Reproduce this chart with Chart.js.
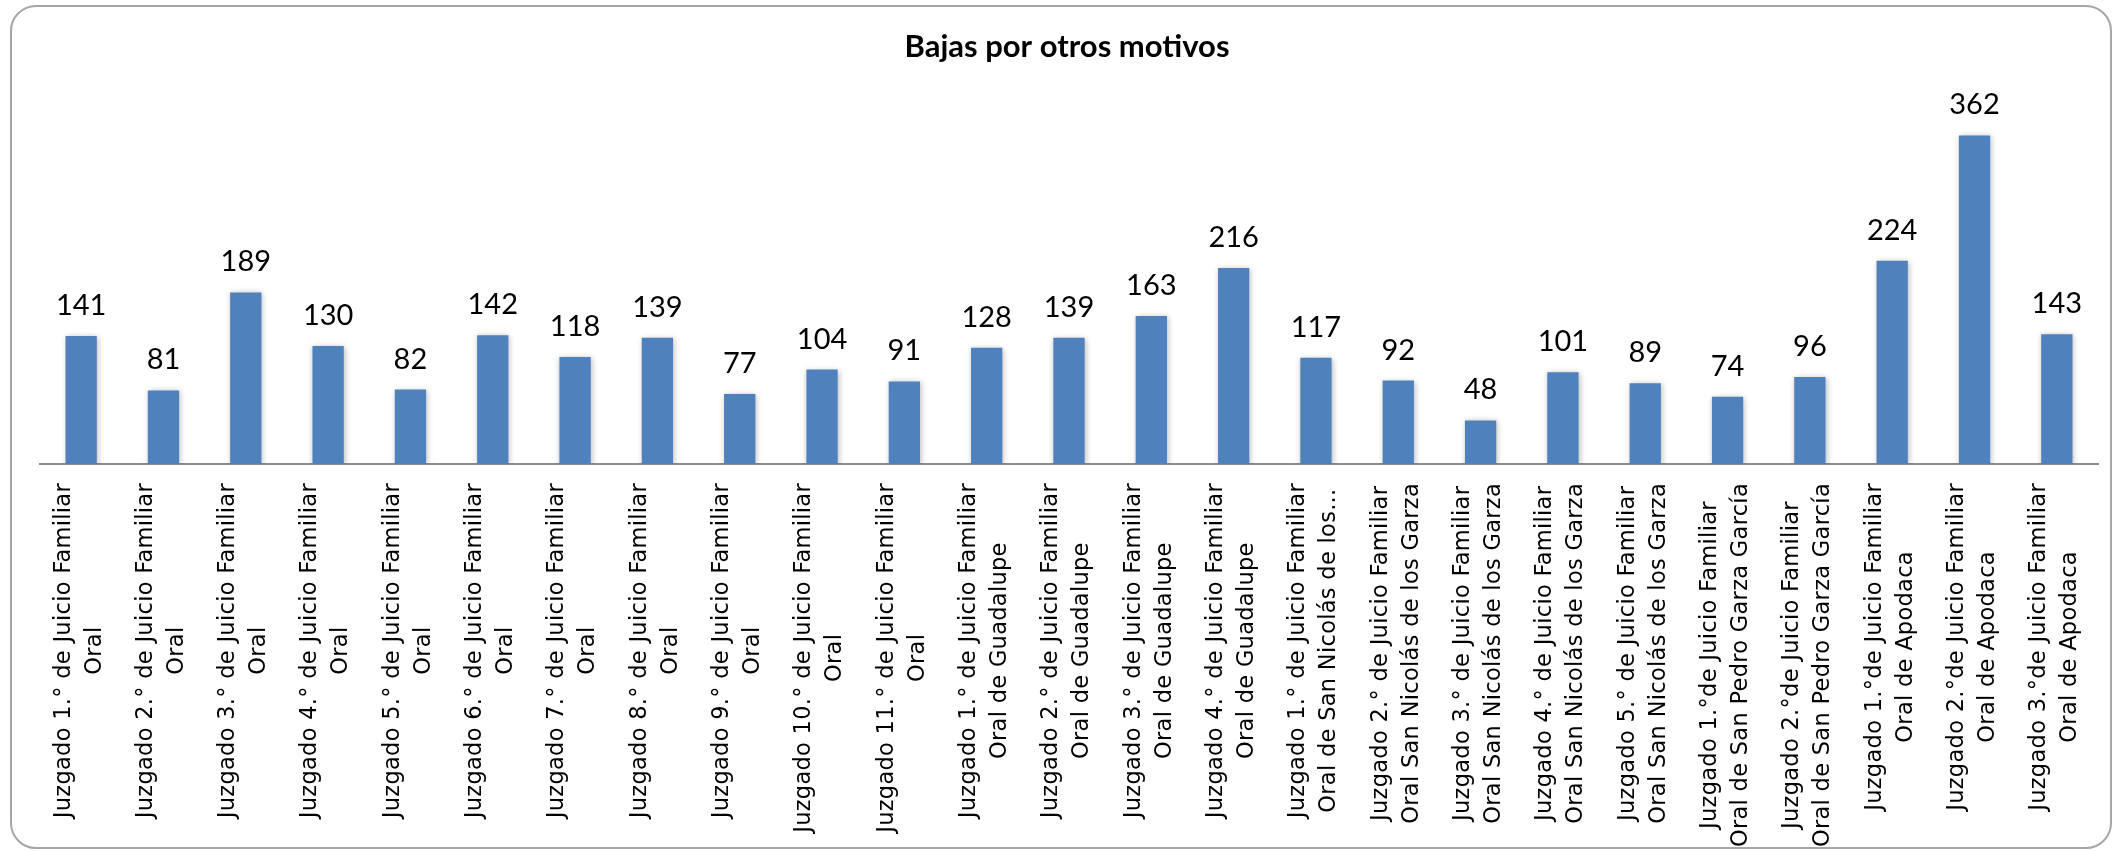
<!DOCTYPE html>
<html>
<head>
<meta charset="utf-8">
<title>Bajas por otros motivos</title>
<script src="https://cdn.jsdelivr.net/npm/chart.js@4.4.1/dist/chart.umd.min.js"></script>
<style>
  html, body { margin: 0; padding: 0; background: #fff; }
  #wrap { position: relative; width: 2118px; height: 851px; }
</style>
</head>
<body>
<div id="wrap"><canvas id="bajas-chart" width="2118" height="851"></canvas></div>
<script>
// =============================================
// Bajas por otros motivos – bar chart
// =============================================

const chartTitle = 'Bajas por otros motivos';

// each category is split in the two lines shown under the axis
const categories = [
  ['Juzgado 1.° de Juicio Familiar', 'Oral'],
  ['Juzgado 2.° de Juicio Familiar', 'Oral'],
  ['Juzgado 3.° de Juicio Familiar', 'Oral'],
  ['Juzgado 4.° de Juicio Familiar', 'Oral'],
  ['Juzgado 5.° de Juicio Familiar', 'Oral'],
  ['Juzgado 6.° de Juicio Familiar', 'Oral'],
  ['Juzgado 7.° de Juicio Familiar', 'Oral'],
  ['Juzgado 8.° de Juicio Familiar', 'Oral'],
  ['Juzgado 9.° de Juicio Familiar', 'Oral'],
  ['Juzgado 10.° de Juicio Familiar', 'Oral'],
  ['Juzgado 11.° de Juicio Familiar', 'Oral'],
  ['Juzgado 1.° de Juicio Familiar', 'Oral de Guadalupe'],
  ['Juzgado 2.° de Juicio Familiar', 'Oral de Guadalupe'],
  ['Juzgado 3.° de Juicio Familiar', 'Oral de Guadalupe'],
  ['Juzgado 4.° de Juicio Familiar', 'Oral de Guadalupe'],
  ['Juzgado 1.° de Juicio Familiar', 'Oral de San Nicolás de los...'],
  ['Juzgado 2.° de Juicio Familiar', 'Oral San Nicolás de los Garza'],
  ['Juzgado 3.° de Juicio Familiar', 'Oral San Nicolás de los Garza'],
  ['Juzgado 4.° de Juicio Familiar', 'Oral San Nicolás de los Garza'],
  ['Juzgado 5.° de Juicio Familiar', 'Oral San Nicolás de los Garza'],
  ['Juzgado 1.°de Juicio Familiar', 'Oral de San Pedro Garza García'],
  ['Juzgado 2.°de Juicio Familiar', 'Oral de San Pedro Garza García'],
  ['Juzgado 1.°de Juicio Familiar', 'Oral de Apodaca'],
  ['Juzgado 2.°de Juicio Familiar', 'Oral de Apodaca'],
  ['Juzgado 3.°de Juicio Familiar', 'Oral de Apodaca']
];

const bajas = [141, 81, 189, 130, 82, 142, 118, 139, 77, 104, 91,
               128, 139, 163, 216,
               117, 92, 48, 101, 89,
               74, 96,
               224, 362, 143];

const yMin = 0;
const yMax = 400;

const BAR_BLUE = '#4F81BD';
const FRAME_GREY = '#a6a6a6';
const AXIS_GREY = '#8c8c8c';

// outer rounded frame, like the spreadsheet chart box
const framePlugin = {
  id: 'frame',
  beforeDraw(chart) {
    const ctx = chart.ctx;
    ctx.save();
    ctx.fillStyle = '#fff';
    ctx.fillRect(0, 0, chart.width, chart.height);
    ctx.beginPath();
    ctx.roundRect(11, 6, 2100, 842, 25);
    ctx.lineWidth = 2;
    ctx.strokeStyle = FRAME_GREY;
    ctx.stroke();
    ctx.restore();
  }
};

// soft shadow behind the bars
const shadowPlugin = {
  id: 'barShadow',
  beforeDatasetsDraw(chart) {
    const ctx = chart.ctx;
    ctx.save();
    ctx.shadowColor = 'rgba(0,0,0,0.28)';
    ctx.shadowBlur = 6;
    ctx.shadowOffsetX = 1;
    ctx.shadowOffsetY = 1;
  },
  afterDatasetsDraw(chart) {
    chart.ctx.restore();
  }
};

const valueLabelPlugin = {
  id: 'valueLabels',
  afterDatasetsDraw(chart) {
    const ctx = chart.ctx;
    const meta = chart.getDatasetMeta(0);
    ctx.save();
    ctx.font = '29px Lato, "Liberation Sans", sans-serif';
    ctx.fillStyle = '#000';
    ctx.textAlign = 'center';
    ctx.textBaseline = 'alphabetic';
    meta.data.forEach((bar, i) => {
      ctx.fillText(String(bajas[i]), bar.x, bar.y - 21);
    });
    ctx.restore();
  }
};

// rotated two-line category labels, lines centred on each other
const categoryLabelPlugin = {
  id: 'categoryLabels',
  afterDraw(chart) {
    const ctx = chart.ctx;
    const xScale = chart.scales.x;
    const top = chart.chartArea.bottom + 19;
    const lineGap = 31;
    ctx.save();
    ctx.font = '22.5px "DejaVu Sans", sans-serif';
    ctx.letterSpacing = '0.3px';
    ctx.fillStyle = '#000';
    ctx.textAlign = 'center';
    ctx.textBaseline = 'middle';
    categories.forEach((lines, i) => {
      const x = xScale.getPixelForValue(i);
      const maxW = Math.max(...lines.map(l => ctx.measureText(l).width));
      ctx.save();
      ctx.translate(x - 2, top + maxW / 2);
      ctx.rotate(-Math.PI / 2);
      lines.forEach((line, k) => {
        ctx.fillText(line, 0, (k - (lines.length - 1) / 2) * lineGap);
      });
      ctx.restore();
    });
    ctx.letterSpacing = '0px';
    ctx.restore();
  }
};

const titlePlugin = {
  id: 'chartTitle',
  afterDraw(chart) {
    const ctx = chart.ctx;
    ctx.save();
    ctx.font = 'bold 31px Lato, "Liberation Sans", sans-serif';
    ctx.fillStyle = '#000';
    ctx.textAlign = 'center';
    ctx.textBaseline = 'alphabetic';
    ctx.fillText(chartTitle, 1067, 57);
    ctx.restore();
  }
};

const ctx = document.getElementById('bajas-chart');

new Chart(ctx, {
  type: 'bar',
  data: {
    labels: categories,
    datasets: [{
      label: chartTitle,
      data: bajas,
      backgroundColor: BAR_BLUE,
      borderWidth: 0,
      barPercentage: 0.38,
      categoryPercentage: 1
    }]
  },
  options: {
    responsive: false,
    animation: false,
    devicePixelRatio: 1,
    layout: { padding: { top: 101, left: 40, right: 20, bottom: 387 } },
    plugins: {
      legend: { display: false },
      tooltip: { enabled: false },
      title: { display: false }
    },
    scales: {
      x: {
        grid: { display: false, drawTicks: false },
        border: { display: true, color: AXIS_GREY, width: 2 },
        ticks: { display: false },
        afterFit: (scale) => { scale.height = 0; }
      },
      y: {
        display: false,
        min: yMin,
        max: yMax
      }
    }
  },
  plugins: [framePlugin, shadowPlugin, valueLabelPlugin, categoryLabelPlugin, titlePlugin]
});
</script>
</body>
</html>
